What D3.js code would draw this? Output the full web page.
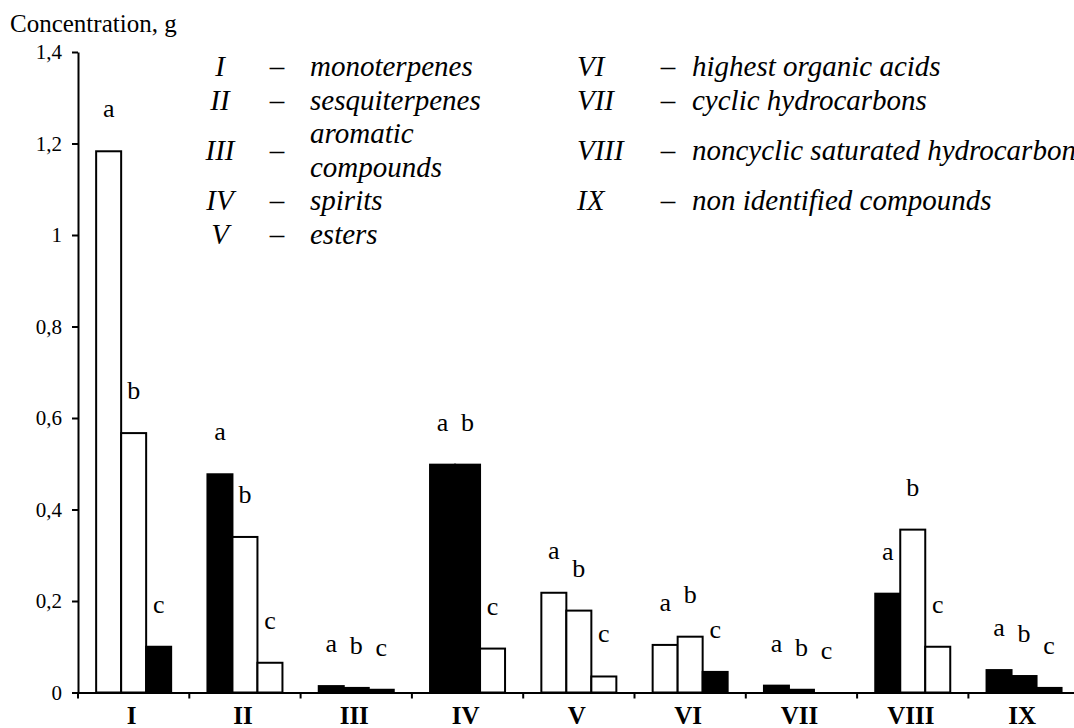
<!DOCTYPE html>
<html>

<head>
    <title>Concentration chart</title>
    <script type='text/javascript' src='https://cdn.jsdelivr.net/npm/d3@7'></script>
</head>

<body style="margin:0;background:#fff">
<script type='text/javascript'>
    var w = 1074
    var h = 728
    var serifFont = "'Liberation Serif'";

    // data
    var categories = ["I", "II", "III", "IV", "V", "VI", "VII", "VIII", "IX"];
    var categoryNames = ["monoterpenes", "sesquiterpenes", "aromatic compounds", "spirits", "esters",
        "highest organic acids", "cyclic hydrocarbons", "noncyclic saturated hydrocarbons", "non identified compounds"];
    var seriesKeys = ["a", "b", "c"];
    var valuesA = [1.183, 0.477, 0.014, 0.498, 0.218, 0.104, 0.015, 0.216, 0.049];
    var valuesB = [0.567, 0.340, 0.010, 0.498, 0.179, 0.122, 0.006, 0.356, 0.036];
    var valuesC = [0.100, 0.065, 0.006, 0.096, 0.035, 0.045, 0, 0.100, 0.010];
    // 1 = black bar, 0 = white bar
    var darkA = [0, 1, 1, 1, 0, 0, 1, 1, 1];
    var darkB = [0, 0, 1, 1, 0, 0, 1, 0, 1];
    var darkC = [1, 0, 1, 0, 0, 1, 0, 0, 1];
    var yTicks = [0, 0.2, 0.4, 0.6, 0.8, 1, 1.2, 1.4];
    var yTitle = "Concentration, g";

    var series = [valuesA, valuesB, valuesC];
    var darks = [darkA, darkB, darkC];
    var bars = [];
    categories.forEach(function(c, i) {
        seriesKeys.forEach(function(k, j) {
            bars.push({ cat: c, key: k, value: series[j][i], dark: darks[j][i] });
        });
    });

    var padLeft = 78, padBottom = 692.5, padTop = 52, step = 111.3;

    var svg = d3.select('body')
        .append('svg')
        .attr('width', w)
        .attr('height', h)
        .style("font-family", serifFont)

    var x = d3.scaleBand()
        .domain(categories)
        .range([padLeft, padLeft + step * categories.length])
        .padding(0);
    var xInner = d3.scaleBand()
        .domain(seriesKeys)
        .range([0, x.bandwidth()])
        .paddingInner(0)
        .paddingOuter(0.726);
    var y = d3.scaleLinear()
        .domain([0, 1.4])
        .range([padBottom, padTop]);

    // bars
    svg.append("g").selectAll("rect")
        .data(bars.filter(function(d) { return d.value > 0; }))
        .enter()
        .append("rect")
        .attr("x", function(d) { return x(d.cat) + xInner(d.key); })
        .attr("y", function(d) { return y(d.value); })
        .attr("width", xInner.bandwidth())
        .attr("height", function(d) { return padBottom - y(d.value); })
        .attr("fill", function(d) { return d.dark ? "#000" : "#fff"; })
        .attr("stroke", "#000")
        .attr("stroke-width", 2);

    // letters above the bars
    svg.append("g").selectAll("text")
        .data(bars)
        .enter()
        .append("text")
        .attr("x", function(d) { return x(d.cat) + xInner(d.key) + xInner.bandwidth() / 2; })
        .attr("y", function(d) { return y(d.value) - 34; })
        .attr("text-anchor", "middle")
        .style("font-family", serifFont)
        .style("font-size", "26px")
        .text(function(d) { return d.key; });

    // y axis
    var yAxis = d3.axisLeft(y)
        .tickValues(yTicks)
        .tickSize(6)
        .tickSizeOuter(0)
        .tickPadding(10)
        .tickFormat(function(d) { return String(d).replace(".", ","); });
    var gy = svg.append("g")
        .attr("transform", "translate(" + padLeft + ",0)")
        .call(yAxis);
    gy.attr("font-family", serifFont);
    gy.selectAll("text").style("font-family", serifFont).style("font-size", "21px");

    // x axis: labels at band centres, ticks at band edges
    var xAxis = d3.axisBottom(x).tickSize(0).tickPadding(14);
    var gx = svg.append("g")
        .attr("transform", "translate(0," + padBottom + ")")
        .call(xAxis);
    gx.attr("font-family", serifFont);
    gx.selectAll("text")
        .style("font-family", serifFont)
        .style("font-size", "25px")
        .style("font-weight", "bold")
        .attr("dx", -2);
    gx.selectAll(".edge")
        .data(categories)
        .enter()
        .append("line")
        .attr("class", "edge")
        .attr("x1", function(d) { return x(d); })
        .attr("x2", function(d) { return x(d); })
        .attr("y1", 0)
        .attr("y2", 6)
        .attr("stroke", "#000");
    svg.selectAll(".domain, .tick line, .edge").attr("stroke-width", 2);

    // axis title
    svg.append("text")
        .attr("x", 10)
        .attr("y", 32)
        .style("font-family", serifFont)
        .style("font-size", "25px")
        .text(yTitle);

    // legend table: two columns, rows grow when a name wraps
    var lineH = 33.5, legTop = 50.25;
    var legend = svg.append("g");
    function legText() {
        return legend.append("text")
            .style("font-family", serifFont)
            .style("font-style", "italic")
            .style("font-size", "29px");
    }
    var measure = legText();
    function wrap(str, maxW) {
        var words = str.split(" "), lines = [], cur = "";
        words.forEach(function(wd) {
            var t = cur ? cur + " " + wd : wd;
            measure.text(t);
            if (cur && measure.node().getComputedTextLength() > maxW) {
                lines.push(cur);
                cur = wd;
            } else cur = t;
        });
        lines.push(cur);
        return lines;
    }
    var cols = [
        { num: 220, anchor: "middle", dash: 277, text: 310, maxW: 230, from: 0, to: 5 },
        { num: 577, anchor: "start", dash: 668, text: 692, maxW: 2000, from: 5, to: 9 }
    ];
    var rowY = legTop;
    for (var r = 0; r < 5; r++) {
        var cells = cols.map(function(c) {
            var i = c.from + r;
            return i < c.to ? { col: c, i: i, lines: wrap(categoryNames[i], c.maxW) } : null;
        }).filter(Boolean);
        var n = d3.max(cells, function(c) { return c.lines.length; });
        var mid = rowY + n * lineH / 2;
        cells.forEach(function(c) {
            legText().attr("x", c.col.num).attr("y", mid + 9)
                .attr("text-anchor", c.col.anchor).text(categories[c.i]);
            legText().attr("x", c.col.dash).attr("y", mid + 9)
                .attr("text-anchor", "middle").text("\u2013");
            c.lines.forEach(function(l, k) {
                legText().attr("x", c.col.text)
                    .attr("y", mid + 9 + (k - (c.lines.length - 1) / 2) * lineH)
                    .text(l);
            });
        });
        rowY += n * lineH;
    }
    measure.remove();
</script>
</body>

</html>
